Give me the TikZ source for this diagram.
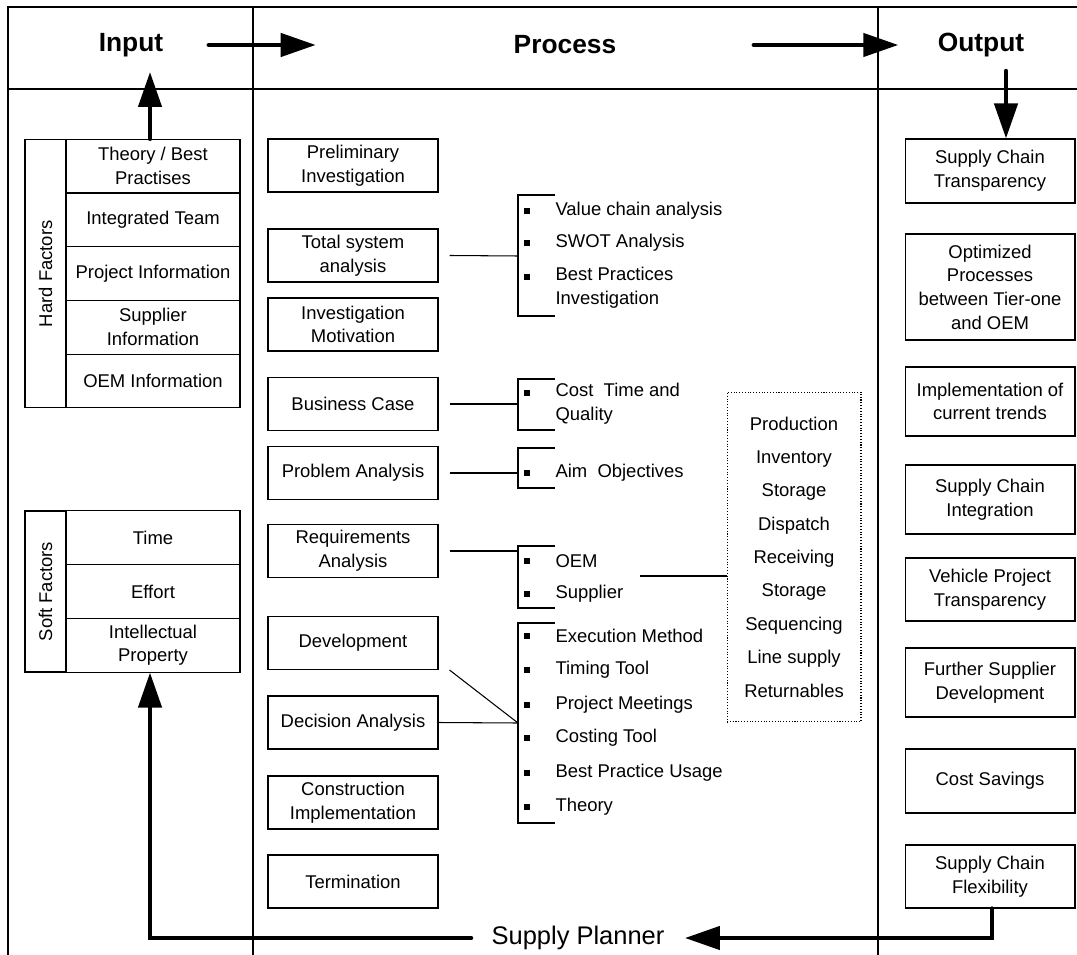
\documentclass[tikz,border=0pt]{standalone}
\usepackage{fontspec}
\setmainfont{Liberation Sans}
\usetikzlibrary{arrows.meta}

\begin{document}
\begin{tikzpicture}[x=0.02cm, y=-0.02cm, line width=0.6pt,
   font=\fontsize{10.5}{13.5}\selectfont,
   head_style/.style={font=\fontsize{15}{18}\selectfont\bfseries, inner sep=0pt},
   proc_style/.style={draw, minimum width=3.4cm, minimum height=1.06cm, align=center, inner sep=1pt},
   out_style/.style={draw, minimum width=3.4cm, align=center, inner sep=1pt},
   cell_style/.style={draw, minimum width=3.48cm, minimum height=1.074cm, align=center, inner sep=1pt},
   side_style/.style={draw, minimum width=0.82cm},
   item_style/.style={anchor=west, align=left, inner sep=0pt},
   bullet_style/.style={fill=black, minimum size=0.11cm, inner sep=0pt},
   flow_style/.style={line width=2.5pt, line cap=round, -{Triangle[length=0.7cm, width=0.46cm]}}]

    \useasboundingbox (0,0) rectangle (1077,955);

    % frame and columns
    \draw (8,955) -- (8,7) -- (1077,7);
    \draw (8,89) -- (1077,89);
    \draw (253,7) -- (253,955);
    \draw (878,7) -- (878,955);

    % headings
    \node[head_style] (input) at (131,45) {Input};
    \node[head_style] (process) at (565,45) {Process};
    \node[head_style] (output) at (981,45) {Output};
    \draw[flow_style, shorten <=0.9cm, shorten >=3.95cm] (input.east) -- (process.west);
    \draw[flow_style, shorten <=2.74cm, shorten >=0.78cm] (process.east) -- (output.west);

    % input: hard factors
    \node[side_style, minimum height=5.37cm] (hard) at (45.5,273.75) {};
    \node[rotate=90] at (hard) {Hard Factors};
    \node[cell_style] (hTheory) at (153,166.25) {Theory / Best\\Practises};
    \node[cell_style] (hTeam) at (153,219.75) {Integrated Team};
    \node[cell_style] (hProject) at (153,273.5) {Project Information};
    \node[cell_style] (hSupplier) at (153,327.25) {Supplier\\Information};
    \node[cell_style] (hOEM) at (153,381) {OEM Information};

    % input: soft factors
    \node[side_style, minimum height=3.22cm] (soft) at (45.5,591.5) {};
    \node[rotate=90] at (soft) {Soft Factors};
    \node[cell_style] (sTime) at (153,537.8) {Time};
    \node[cell_style] (sEffort) at (153,591.5) {Effort};
    \node[cell_style] (sProperty) at (153,645.2) {Intellectual\\Property};

    % process steps
    \node[proc_style] (prelim) at (353,165.5) {Preliminary\\Investigation};
    \node[proc_style] (totsys) at (353,255.5) {Total system\\analysis};
    \node[proc_style] (invmot) at (353,324.5) {Investigation\\Motivation};
    \node[proc_style] (buscase) at (353,404) {Business Case};
    \node[proc_style] (probana) at (353,473) {Problem Analysis};
    \node[proc_style] (reqana) at (353,551) {Requirements\\Analysis};
    \node[proc_style] (devel) at (353,643) {Development};
    \node[proc_style] (decana) at (353,722.5) {Decision Analysis};
    \node[proc_style] (constr) at (353,802.5) {Construction\\Implementation};
    \node[proc_style] (termin) at (353,881.5) {Termination};

    % brackets
    \draw (555,195) -- (518,195) -- (518,316) -- (555,316);
    \draw (555,379) -- (518,379) -- (518,430) -- (555,430);
    \draw (555,448) -- (518,448) -- (518,488) -- (555,488);
    \draw (555,546) -- (518,546) -- (518,608) -- (555,608);
    \draw (555,623) -- (518,623) -- (518,823) -- (555,823);
    \coordinate (b1) at (518,256);
    \coordinate (b2) at (518,404);
    \coordinate (b3) at (518,473);
    \coordinate (b4) at (518,551);
    \coordinate (b5) at (518,723);
    \draw ([xshift=0.22cm]totsys.east) -- (b1);
    \draw ([xshift=0.22cm]buscase.east) -- (b2);
    \draw ([xshift=0.22cm]probana.east) -- (b3);
    \draw ([xshift=0.22cm]reqana.east) -- (b4);
    \draw (decana.east) -- (b5);
    \draw ([xshift=0.22cm]devel.south east) -- (b5);

    % bracket items
    \node[bullet_style] at (527,211) {};
    \node[bullet_style] at (527,243) {};
    \node[bullet_style] at (527,277) {};
    \node[item_style] (valch) at (555,211) {Value chain analysis};
    \node[item_style] (swot) at (555,243) {SWOT Analysis};
    \node[item_style] (bestp) at (555,288) {Best Practices\\Investigation};
    \node[bullet_style] at (527,393) {};
    \node[item_style] (ctq) at (555,404) {Cost\ \ Time and\\Quality};
    \node[bullet_style] at (527,473) {};
    \node[item_style] (aim) at (555,473) {Aim\ \ Objectives};
    \node[bullet_style] at (527,561) {};
    \node[bullet_style] at (527,594) {};
    \node[item_style] (oem) at (555,561) {OEM};
    \node[item_style] (supp) at (555,594) {Supplier};
    \node[bullet_style] at (527,636) {};
    \node[bullet_style] at (527,670) {};
    \node[bullet_style] at (527,705) {};
    \node[bullet_style] at (527,738) {};
    \node[bullet_style] at (527,773) {};
    \node[bullet_style] at (527,807) {};
    \node[item_style] (exec) at (555,636) {Execution Method};
    \node[item_style] (timing) at (555,670) {Timing Tool};
    \node[item_style] (meet) at (555,705) {Project Meetings};
    \node[item_style] (costing) at (555,738) {Costing Tool};
    \node[item_style] (bpu) at (555,773) {Best Practice Usage};
    \node[item_style] (theory) at (555,807) {Theory};

    % logistics areas
    \node[draw, densely dotted, minimum width=2.68cm, minimum height=6.6cm, align=center,
          font=\fontsize{10.5}{19}\selectfont] (logi) at (794,557)
          {Production\\Inventory\\Storage\\Dispatch\\Receiving\\Storage\\Sequencing\\Line supply\\Returnables};
    \coordinate (suppend) at (640,576);
    \draw (suppend) -- (suppend -| logi.west);

    % output results
    \node[out_style, minimum height=1.28cm] (sctrans) at (990,171) {Supply Chain\\Transparency};
    \node[out_style, minimum height=2.12cm] (optproc) at (990,287) {Optimized\\Processes\\between Tier-one\\and OEM};
    \node[out_style, minimum height=1.38cm] (impl) at (990,401.5) {Implementation of\\current trends};
    \node[out_style, minimum height=1.38cm] (scint) at (990,499.5) {Supply Chain\\Integration};
    \node[out_style, minimum height=1.26cm] (vehproj) at (990,589.5) {Vehicle Project\\Transparency};
    \node[out_style, minimum height=1.38cm] (furth) at (990,682.5) {Further Supplier\\Development};
    \node[out_style, minimum height=1.28cm] (costsav) at (990,781) {Cost Savings};
    \node[out_style, minimum height=1.26cm] (flex) at (990,876.5) {Supply Chain\\Flexibility};

    % feedback loop
    \coordinate (outdrop) at (1006,71);
    \coordinate (inrise) at (150,72);
    \draw[flow_style] (outdrop) -- (outdrop |- sctrans.north);
    \draw[flow_style] (inrise |- hTheory.north) -- (inrise);
    \node[font=\fontsize{14.5}{17}\selectfont, inner xsep=0.4cm, inner ysep=0pt] (planner) at (578,938) {Supply Planner};
    \draw[flow_style] ([xshift=0.04cm]flex.south) |- (planner.east);
    \draw[flow_style] (planner.west) -| (inrise |- sProperty.south);
\end{tikzpicture}
\end{document}
